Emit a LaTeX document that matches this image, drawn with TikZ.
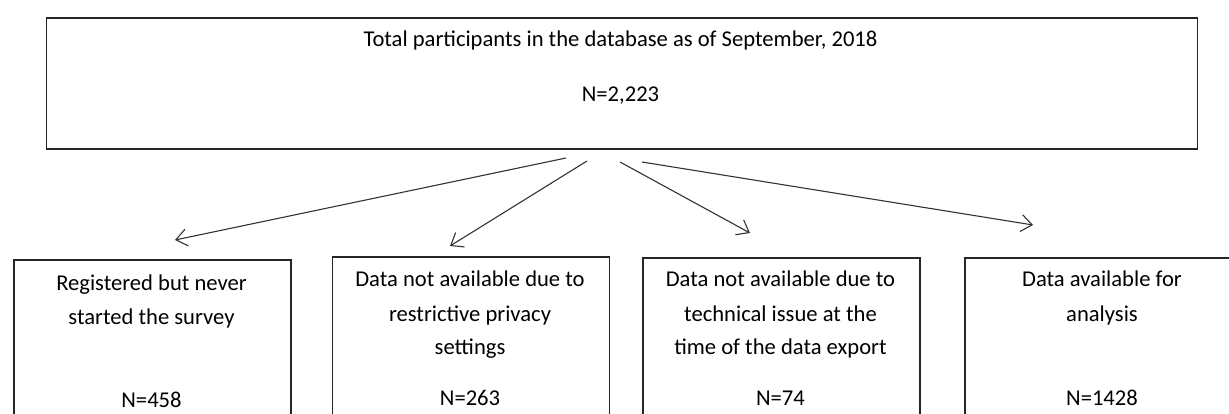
\documentclass[tikz,border=0pt]{standalone}
\usepackage{fontspec}
\setmainfont{Carlito}
\usetikzlibrary{arrows.meta}
\begin{document}
\begin{tikzpicture}[x=1pt,y=-1pt,
  box/.style={draw=black!85,line width=1.6pt,fill=none,inner sep=0pt,anchor=north west},
  txt/.style={anchor=base,inner sep=0pt,font=\fontsize{22.6}{34}\selectfont,text=black},
  arr/.style={draw=black!80,line width=1.1pt,-{Straight Barb[length=11pt,width=17pt,line width=1.1pt]}}]
\clip (0,0) rectangle (1229,414);
\fill[white] (0,0) rectangle (1229,414);
% boxes
\node[box,minimum width=1151pt,minimum height=131pt] (top) at (45.5,17) {};
\node[box,minimum width=277pt,minimum height=200pt] (b1) at (13,259) {};
\node[box,minimum width=277pt,minimum height=200pt] (b2) at (331.5,256) {};
\node[box,minimum width=277pt,minimum height=200pt] (b3) at (642,257) {};
\node[box,minimum width=277pt,minimum height=200pt] (b4) at (964,257) {};
% texts
\node[txt] (t1) at (620.5,47) {Total participants in the database as of September, 2018};
\node[txt] (t2) at (620.5,102) {N=2,223};
\node[txt] (a1) at (151.5,290) {Registered but never};
\node[txt] (a2) at (151.5,324) {started the survey};
\node[txt] (a3) at (151.5,407) {N=458};
\node[txt] (c1) at (470,287) {Data not available due to};
\node[txt] (c2) at (470,321) {restrictive privacy};
\node[txt] (c3) at (470,354) {settings};
\node[txt] (c4) at (470,405) {N=263};
\node[txt] (d1) at (780.5,287) {Data not available due to};
\node[txt] (d2) at (780.5,321) {technical issue at the};
\node[txt] (d3) at (780.5,354) {time of the data export};
\node[txt] (d4) at (780.5,405) {N=74};
\node[txt] (e1) at (1102,287) {Data available for};
\node[txt] (e2) at (1102,321) {analysis};
\node[txt] (e3) at (1102,405) {N=1428};
% arrow ends
\coordinate (s1) at (566,158);
\coordinate (e1a) at (175,240);
\coordinate (s2) at (587,161);
\coordinate (e2a) at (450,246);
\coordinate (s3) at (620,162);
\coordinate (e3a) at (750,233);
\coordinate (s4) at (642,162);
\coordinate (e4a) at (1033,225);
\draw[arr] (s1) -- (e1a);
\draw[arr] (s2) -- (e2a);
\draw[arr] (s3) -- (e3a);
\draw[arr] (s4) -- (e4a);
\end{tikzpicture}
\end{document}
